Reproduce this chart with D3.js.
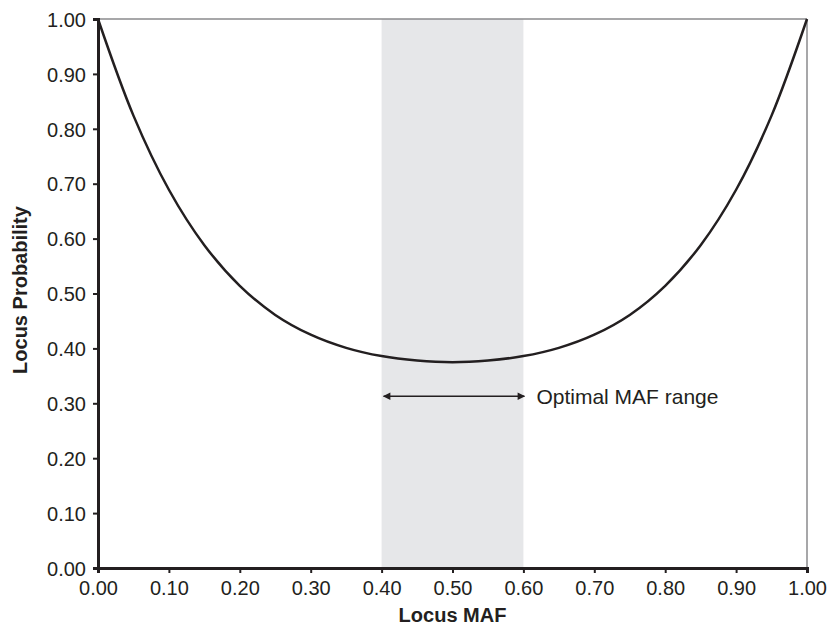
<!DOCTYPE html>
<html>
<head>
<meta charset="utf-8">
<script src="https://cdn.jsdelivr.net/npm/d3@7"></script>
<style>
  body { margin: 0; background: #fff; }
  text { font-family: "Liberation Sans", Arial, sans-serif; fill: #231f20; }
</style>
</head>
<body>
<svg id="chart" width="835" height="628"></svg>
<script>
// locus MAF vs locus probability
var maf = [0.00, 0.05, 0.10, 0.15, 0.20, 0.25, 0.30, 0.35, 0.40, 0.45, 0.50,
           0.55, 0.60, 0.65, 0.70, 0.75, 0.80, 0.85, 0.90, 0.95, 1.00];
var prob = [1.000, 0.824, 0.689, 0.588, 0.514, 0.461, 0.425, 0.401, 0.386, 0.378, 0.375,
            0.378, 0.386, 0.401, 0.425, 0.461, 0.514, 0.588, 0.689, 0.824, 1.000];
var xTicks = [0, 0.1, 0.2, 0.3, 0.4, 0.5, 0.6, 0.7, 0.8, 0.9, 1.0];
var yTicks = [0, 0.1, 0.2, 0.3, 0.4, 0.5, 0.6, 0.7, 0.8, 0.9, 1.0];
var optimalRange = [0.4, 0.6];
var arrowY = 0.313;

var margin = { top: 19, right: 28, bottom: 60, left: 98 },
    width = 835 - margin.left - margin.right,
    height = 628 - margin.top - margin.bottom;

var svg = d3.select("#chart");
var g = svg.append("g").attr("transform", "translate(" + margin.left + "," + margin.top + ")");

var x = d3.scaleLinear().domain([0, 1]).range([0, width]);
var y = d3.scaleLinear().domain([0, 1]).range([height, 0]);

// shaded optimal band
g.append("rect")
    .attr("x", x(optimalRange[0]))
    .attr("y", 0)
    .attr("width", x(optimalRange[1]) - x(optimalRange[0]))
    .attr("height", height)
    .attr("fill", "#e6e7e9");

// top and right frame (grey)
g.append("line").attr("x1", 0).attr("x2", width).attr("y1", 0).attr("y2", 0)
    .attr("stroke", "#8a8a8c").attr("stroke-width", 1.5);
g.append("line").attr("x1", width).attr("x2", width).attr("y1", 0).attr("y2", height)
    .attr("stroke", "#8a8a8c").attr("stroke-width", 1.5);

// curve
var line = d3.line()
    .x(function(d, i) { return x(maf[i]); })
    .y(function(d) { return y(d); })
    .curve(d3.curveCatmullRom);

g.append("path")
    .datum(prob)
    .attr("d", line)
    .attr("fill", "none")
    .attr("stroke", "#231f20")
    .attr("stroke-width", 2.5);

// axes
var xAxis = g.append("g")
    .attr("transform", "translate(0," + height + ")")
    .call(d3.axisBottom(x).tickValues(xTicks).tickFormat(d3.format(".2f")).tickSize(5).tickPadding(6));
var yAxis = g.append("g")
    .call(d3.axisLeft(y).tickValues(yTicks).tickFormat(d3.format(".2f")).tickSize(5).tickPadding(7));

[xAxis, yAxis].forEach(function(a) {
    a.select(".domain").attr("stroke", "#231f20").attr("stroke-width", 3);
    a.selectAll(".tick line").attr("stroke", "#231f20").attr("stroke-width", 2);
    a.selectAll(".tick text")
        .style("font-family", '"Liberation Sans", Arial, sans-serif')
        .style("font-size", "20px")
        .attr("fill", "#231f20");
});
xAxis.selectAll(".tick text").attr("dy", "0.78em");
yAxis.selectAll(".tick text").attr("dy", "0.36em");

// double-headed arrow
var defs = svg.append("defs");
defs.append("marker")
    .attr("id", "ah")
    .attr("viewBox", "0 0 10 10")
    .attr("refX", 9).attr("refY", 5)
    .attr("markerWidth", 6).attr("markerHeight", 5)
    .attr("orient", "auto-start-reverse")
    .append("path").attr("d", "M0,0 L10,5 L0,10 z").attr("fill", "#231f20");

g.append("line")
    .attr("x1", x(optimalRange[0]) + 2)
    .attr("x2", x(optimalRange[1]) + 1)
    .attr("y1", y(arrowY)).attr("y2", y(arrowY))
    .attr("stroke", "#231f20").attr("stroke-width", 1.5)
    .attr("marker-start", "url(#ah)")
    .attr("marker-end", "url(#ah)");

g.append("text")
    .attr("x", x(optimalRange[1]) + 13)
    .attr("y", y(arrowY))
    .attr("dy", "0.36em")
    .style("font-size", "21px")
    .text("Optimal MAF range");

// axis titles
svg.append("text")
    .attr("x", margin.left + width / 2)
    .attr("y", 622)
    .attr("text-anchor", "middle")
    .style("font-size", "20px")
    .style("font-weight", "bold")
    .text("Locus MAF");

svg.append("text")
    .attr("transform", "translate(27,290) rotate(-90)")
    .attr("text-anchor", "middle")
    .style("font-size", "20px")
    .style("font-weight", "bold")
    .text("Locus Probability");
</script>
</body>
</html>
